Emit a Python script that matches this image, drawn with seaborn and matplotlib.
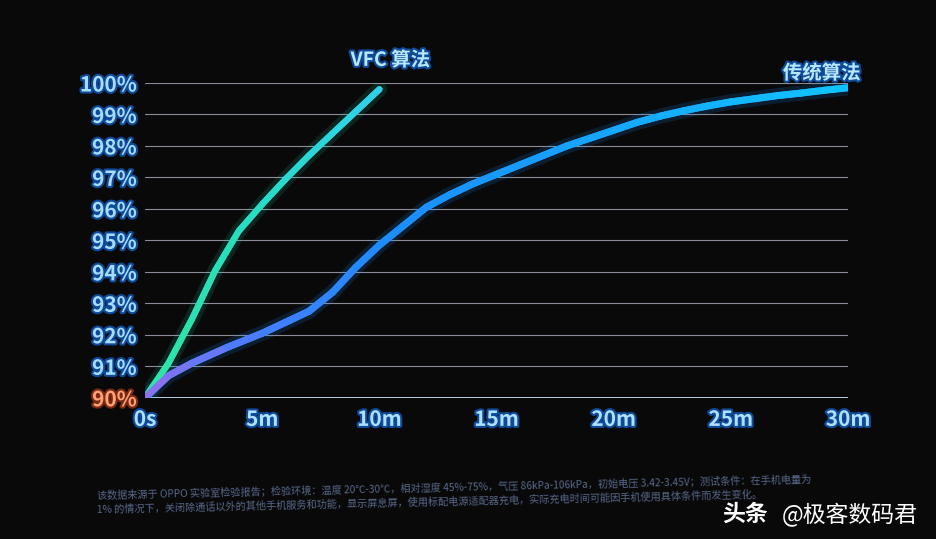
import numpy as np
import pandas as pd
import seaborn as sns
import matplotlib.pyplot as plt
import matplotlib.patheffects as pe
from matplotlib.collections import LineCollection
from matplotlib.colors import LinearSegmentedColormap

# data
vfc_t = [0, 1, 2, 3, 4, 5, 6, 7, 8, 9, 10]
vfc_pct = [90, 91.1, 92.5, 94.05, 95.3, 96.15, 96.95, 97.7, 98.4, 99.1, 99.8]

trad_t = [0, 1, 2, 3.5, 5, 6, 7, 8, 9, 10, 11, 12, 13, 14, 15, 16, 17, 18, 19, 20,
          21, 22, 23, 24, 25, 26, 27, 28, 29, 30]
trad_pct = [90, 90.7, 91.1, 91.6, 92.05, 92.4, 92.75, 93.35, 94.15, 94.85, 95.45, 96.05,
            96.45, 96.8, 97.1, 97.4, 97.7, 98.0, 98.25, 98.5, 98.75, 98.95, 99.12, 99.27,
            99.4, 99.5, 99.6, 99.68, 99.77, 99.85]

x_ticks = [0, 5, 10, 15, 20, 25, 30]
x_labels = ["0s", "5m", "10m", "15m", "20m", "25m", "30m"]
y_ticks = [90, 91, 92, 93, 94, 95, 96, 97, 98, 99, 100]
y_labels = ["90%", "91%", "92%", "93%", "94%", "95%", "96%", "97%", "98%", "99%", "100%"]

sns.set_theme(style="dark")
plt.rcParams['font.family'] = ['Noto Sans CJK SC', 'DejaVu Sans']

bg = "#0a0909"
fig = plt.figure(figsize=(9.36, 5.39), dpi=100, facecolor=bg)
ax = fig.add_axes([0.155, 0.262, 0.751, 0.584])
ax.set_facecolor(bg)

df_vfc = pd.DataFrame({"t": vfc_t, "pct": vfc_pct})
df_trad = pd.DataFrame({"t": trad_t, "pct": trad_pct})

# grid lines
for y in y_ticks[1:]:
    ax.axhline(y, color="#8c8c98", lw=0.8, zorder=1)
ax.axhline(90, color="#c8dcf0", lw=1.3, zorder=1)

# glow underneath
sns.lineplot(data=df_vfc, x="t", y="pct", ax=ax, color="#20e0c0", lw=11, alpha=0.13, zorder=2)
sns.lineplot(data=df_trad, x="t", y="pct", ax=ax, color="#1090ff", lw=11, alpha=0.16, zorder=2)
sns.lineplot(data=df_vfc, x="t", y="pct", ax=ax, color="#22dcc4", lw=4.5, zorder=3,
             solid_joinstyle="round", solid_capstyle="round")
sns.lineplot(data=df_trad, x="t", y="pct", ax=ax, color="#1a9cff", lw=5, zorder=3,
             solid_joinstyle="round", solid_capstyle="round")

# colour shift along the lines
def gradient(t, p, stops, lw):
    pts = np.array([t, p]).T.reshape(-1, 1, 2)
    segs = np.concatenate([pts[:-1], pts[1:]], axis=1)
    cmap = LinearSegmentedColormap.from_list("g", stops)
    mid = (np.array(t[:-1]) + np.array(t[1:])) / 2 / max(t)
    lc = LineCollection(segs, colors=cmap(mid), lw=lw, capstyle="round",
                        joinstyle="round", zorder=4)
    ax.add_collection(lc)

gradient(vfc_t, vfc_pct, ["#2ee6a0", "#26dcc8", "#30d0ec"], 4.5)
gradient(trad_t, trad_pct, [(0, "#9070f0"), (0.15, "#4a7cff"), (0.35, "#1c8cff"),
                            (1, "#10c4ff")], 5)

ax.set_xlim(0, 30)
ax.set_ylim(90, 100)
ax.set_xticks(x_ticks)
ax.set_yticks(y_ticks)
ax.set_xlabel("")
ax.set_ylabel("")
ax.grid(False)
for s in ax.spines.values():
    s.set_visible(False)
ax.tick_params(length=0)

glow = [pe.withStroke(linewidth=3, foreground="#0d4a9a")]
ax.set_xticklabels(x_labels, color="#b0e0ff", fontsize=15, fontweight="bold", path_effects=glow)
ax.set_yticklabels(y_labels, color="#a8dcff", fontsize=15, fontweight="bold", path_effects=glow)
ax.get_yticklabels()[0].set_color("#ffa27a")
ax.get_yticklabels()[0].set_path_effects([pe.withStroke(linewidth=3, foreground="#7a2a10")])
ax.tick_params(axis="x", pad=8)
ax.tick_params(axis="y", pad=6)

fig.text(0.417, 0.888, "VFC 算法", color="#b8e8ff", fontsize=14, fontweight="bold",
         ha="center", va="center", path_effects=glow)
fig.text(0.878, 0.864, "传统算法", color="#b8e8ff", fontsize=14, fontweight="bold",
         ha="center", va="center", path_effects=glow)

# footnote, slightly tilted like the photographed slide
note1 = ("该数据来源于 OPPO 实验室检验报告；检验环境：温度 20℃-30℃，相对湿度 45%-75%，"
         "气压 86kPa-106kPa，初始电压 3.42-3.45V；测试条件：在手机电量为")
note2 = ("1% 的情况下，关闭除通话以外的其他手机服务和功能，显示屏息屏，使用标配电源适配器充电，"
         "实际充电时间可能因手机使用具体条件而发生变化。")
fig.text(0.104, 0.082, note1, color="#56688a", fontsize=7.3, ha="left", va="center",
         rotation=1.3, rotation_mode="anchor")
fig.text(0.104, 0.054, note2, color="#56688a", fontsize=7.3, ha="left", va="center",
         rotation=1.3, rotation_mode="anchor")

fig.text(0.772, 0.045, "头条", color="#ffffff", fontsize=16.5, fontweight="bold",
         ha="left", va="center")
fig.text(0.980, 0.045, "@极客数码君", color="#ffffff", fontsize=16.5,
         ha="right", va="center")

fig.savefig("out.png", dpi=100, facecolor=bg)
